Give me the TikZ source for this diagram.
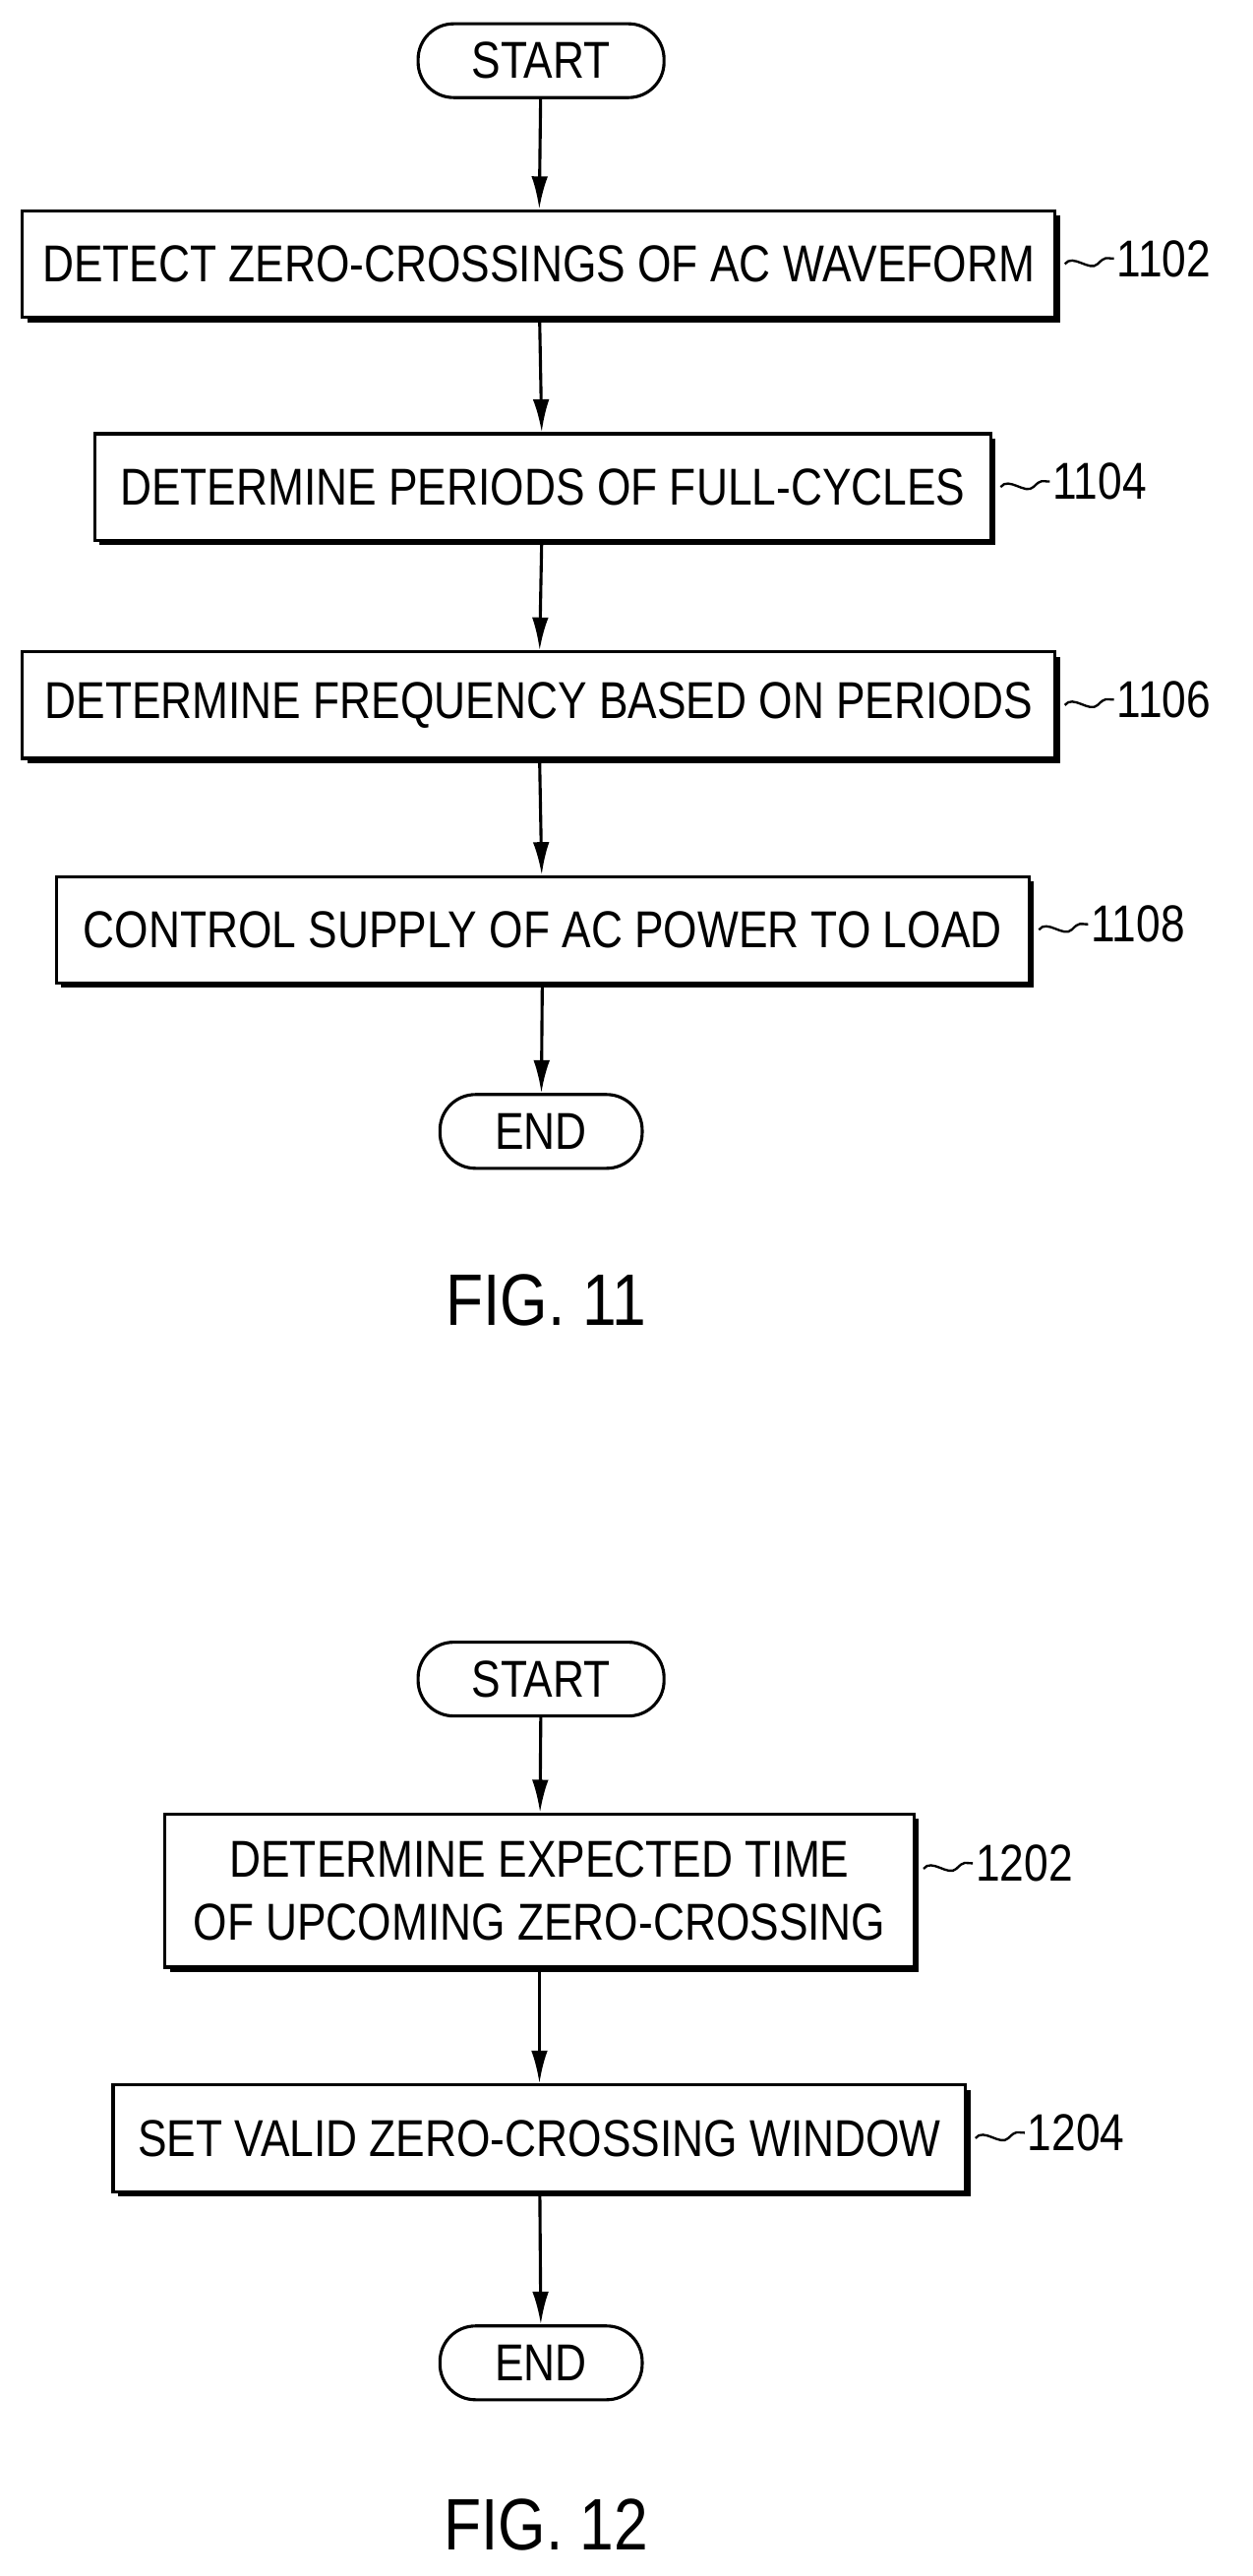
\documentclass[tikz,border=0pt]{standalone}
\usepackage{fontspec}
\setmainfont{Liberation Sans}[FakeStretch=0.84]
\usetikzlibrary{positioning,shadows,arrows.meta}

\tikzset{
    box/.style={draw, line width=1.6pt, fill=white, minimum height=19.5mm, inner sep=0pt,
        font=\fontsize{27}{33}\selectfont, align=center,
        drop shadow={shadow xshift=0.9mm, shadow yshift=-0.9mm, opacity=1, fill=black}},
    term/.style={draw, line width=1.6pt, rounded corners=6.5mm, minimum width=45mm,
        minimum height=13.5mm, font=\fontsize{27}{33}\selectfont},
    flow/.style={-{Latex[length=6mm,width=3mm]}, line width=1.6pt},
    tag/.style={font=\fontsize{27}{33}\selectfont, anchor=west},
    fig/.style={font=\fontsize{38}{42}\selectfont}
}
% squiggle from a box to its reference number
\newcommand{\refmark}[2]{%
    \draw[line width=1.2pt] (#1) ++(1.5mm,0) .. controls +(1.5mm,2mm) and +(-1.5mm,-1.5mm) .. ++(6mm,0)
        .. controls +(1.5mm,1.5mm) and +(-1.5mm,0) .. ++(3mm,1mm) node[tag, inner sep=1pt] {#2};}

\begin{document}
\begin{tikzpicture}[x=0.3mm, y=-0.3mm]
    \useasboundingbox (0,0) rectangle (764,1571);

    % FIG. 11
    \node[term] (s1) at (330,37) {START};
    \node[box, minimum width=189mm] (a) at (328.5,161) {DETECT ZERO-CROSSINGS OF AC WAVEFORM};
    \node[box, minimum width=164mm] (b) at (331,297) {DETERMINE PERIODS OF FULL-CYCLES};
    \node[box, minimum width=189mm] (c) at (328.5,430) {DETERMINE FREQUENCY BASED ON PERIODS};
    \node[box, minimum width=178mm] (d) at (331,567) {CONTROL SUPPLY OF AC POWER TO LOAD};
    \node[term, minimum width=37mm] (e1) at (330,690) {END};
    \node[fig] (f11) at (333,793) {FIG. 11};

    \draw[flow] (s1) -- (a);
    \draw[flow] (a) -- (b);
    \draw[flow] (b) -- (c);
    \draw[flow] (c) -- (d);
    \draw[flow] (d) -- (e1);

    \refmark{a.east}{1102}
    \refmark{b.east}{1104}
    \refmark{c.east}{1106}
    \refmark{d.east}{1108}

    % FIG. 12
    \node[term] (s2) at (330,1024) {START};
    \node[box, minimum width=137mm, minimum height=28mm] (g) at (329,1153)
        {DETERMINE EXPECTED TIME\\OF UPCOMING ZERO-CROSSING};
    \node[box, minimum width=156mm] (h) at (329,1304) {SET VALID ZERO-CROSSING WINDOW};
    \node[term, minimum width=37mm] (e2) at (330,1441) {END};
    \node[fig] (f12) at (333,1540) {FIG. 12};

    \draw[flow] (s2) -- (g);
    \draw[flow] (g) -- (h);
    \draw[flow] (h) -- (e2);

    \refmark{[yshift=4mm]g.east}{1202}
    \refmark{h.east}{1204}
\end{tikzpicture}
\end{document}
